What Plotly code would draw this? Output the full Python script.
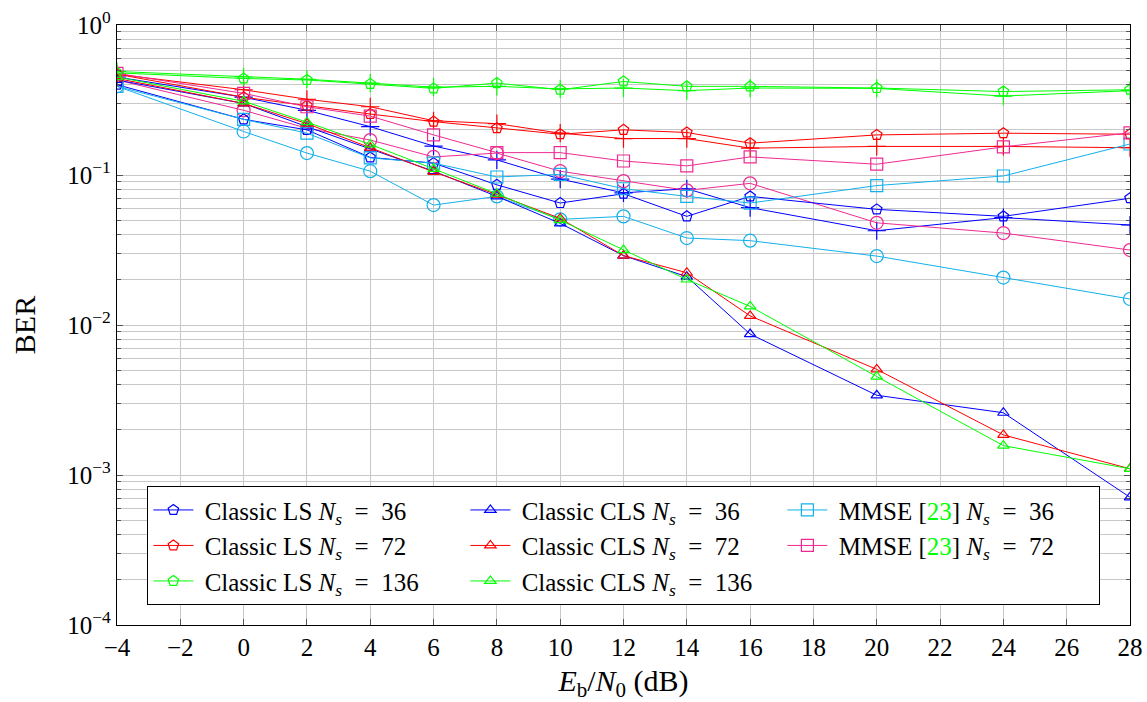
import plotly.graph_objects as go

EBN0 = [-4, 0, 2, 4, 6, 8, 10, 12, 14, 16, 20, 24, 28]

LS_36 = [0.40, 0.235, 0.20, 0.131, 0.12, 0.086, 0.065, 0.075, 0.053, 0.072, 0.059, 0.053, 0.070]
LS_72 = [0.47, 0.33, 0.29, 0.255, 0.227, 0.205, 0.187, 0.20, 0.192, 0.163, 0.185, 0.19, 0.187]
LS_136 = [0.48, 0.44, 0.43, 0.405, 0.378, 0.41, 0.37, 0.42, 0.39, 0.39, 0.38, 0.36, 0.37]

CLS_36 = [0.43, 0.30, 0.21, 0.15, 0.106, 0.072, 0.0476, 0.029, 0.021, 0.0087, 0.0034, 0.0026, 0.00071]
CLS_72 = [0.44, 0.30, 0.22, 0.152, 0.105, 0.074, 0.0514, 0.029, 0.0223, 0.0115, 0.00506, 0.00185, 0.0011]
CLS_136 = [0.45, 0.31, 0.225, 0.16, 0.11, 0.075, 0.050, 0.0316, 0.0201, 0.0133, 0.00453, 0.00157, 0.0011]

MMSE_36 = [0.39, 0.235, 0.19, 0.13, 0.12, 0.097, 0.101, 0.081, 0.072, 0.065, 0.085, 0.0985, 0.161]
MMSE_72 = [0.476, 0.35, 0.285, 0.247, 0.185, 0.141, 0.141, 0.124, 0.115, 0.132, 0.118, 0.154, 0.191]

PLUS_36 = [0.45, 0.33, 0.27, 0.21, 0.156, 0.126, 0.094, 0.076, 0.081, 0.0606, 0.0425, 0.052, 0.0464]
PLUS_72 = [0.47, 0.37, 0.32, 0.285, 0.23, 0.22, 0.19, 0.175, 0.175, 0.151, 0.155, 0.155, 0.152]
PLUS_136 = [0.49, 0.45, 0.435, 0.41, 0.385, 0.39, 0.375, 0.38, 0.365, 0.38, 0.378, 0.336, 0.365]

CIRC_36 = [0.39, 0.195, 0.14, 0.106, 0.063, 0.072, 0.0506, 0.053, 0.038, 0.0365, 0.0288, 0.0207, 0.0149]
CIRC_72 = [0.43, 0.27, 0.205, 0.171, 0.132, 0.14, 0.106, 0.091, 0.079, 0.088, 0.048, 0.041, 0.0316]

X_TICKS = [-4, -2, 0, 2, 4, 6, 8, 10, 12, 14, 16, 18, 20, 22, 24, 26, 28]
X_TICK_TEXT = ["−4", "−2", "0", "2", "4", "6", "8", "10", "12", "14", "16", "18", "20", "22", "24", "26", "28"]
Y_TICKS = [1, 0.1, 0.01, 0.001, 0.0001]
Y_TICK_TEXT = ["10<sup>0</sup>", "10<sup>−1</sup>", "10<sup>−2</sup>", "10<sup>−3</sup>", "10<sup>−4</sup>"]

BLUE = "#0000ff"
RED = "#ff0000"
GREEN = "#00ff00"
CYAN = "#12b0ec"
MAGENTA = "#ee2a92"
FONT = "Liberation Serif"
NB = "\u00a0"

fig = go.Figure()


def add(y, color, symbol, size, name=None, show=True):
    fig.add_trace(go.Scatter(
        x=EBN0, y=y, mode="lines+markers",
        line=dict(color=color, width=1),
        marker=dict(symbol=symbol, size=size, color=color, line=dict(color=color, width=1.2)),
        name=name or "", showlegend=show,
    ))


def lab(prefix, v):
    return NB + prefix + " <i>N</i><sub><i>s</i></sub>" + NB * 2 + "=" + NB * 2 + str(v)

# non-legend series
add(PLUS_36, BLUE, "cross-thin-open", 13, show=False)
add(PLUS_72, RED, "cross-thin-open", 13, show=False)
add(PLUS_136, GREEN, "cross-thin-open", 13, show=False)
add(CIRC_36, CYAN, "circle-open", 13, show=False)
add(CIRC_72, MAGENTA, "circle-open", 13, show=False)

MMSE_REF = "MMSE [<span style='color:#00ff00'>23</span>]"
# legend series (row-wise order)
add(LS_36, BLUE, "pentagon-open", 11, lab("Classic LS", 36))
add(CLS_36, BLUE, "triangle-up-open", 10, lab("Classic CLS", 36))
add(MMSE_36, CYAN, "square-open", 12, lab(MMSE_REF, 36))
add(LS_72, RED, "pentagon-open", 11, lab("Classic LS", 72))
add(CLS_72, RED, "triangle-up-open", 10, lab("Classic CLS", 72))
add(MMSE_72, MAGENTA, "square-open", 12, lab(MMSE_REF, 72))
add(LS_136, GREEN, "pentagon-open", 11, lab("Classic LS", 136))
add(CLS_136, GREEN, "triangle-up-open", 10, lab("Classic CLS", 136))

fig.update_layout(
    width=1147, height=702,
    margin=dict(l=117, r=17, t=25, b=77),
    paper_bgcolor="white", plot_bgcolor="white",
    font=dict(family=FONT, size=25, color="black"),
    legend=dict(
        orientation="h", x=0.03, y=0.033, xanchor="left", yanchor="bottom",
        bordercolor="black", borderwidth=1, bgcolor="white",
        entrywidth=262, tracegroupgap=0, font=dict(size=25, family=FONT),
        itemwidth=40,
    ),
)

fig.update_xaxes(
    range=[-4, 28], tickvals=X_TICKS, ticktext=X_TICK_TEXT, automargin=False,
    showgrid=True, gridcolor="#c8c8c8", gridwidth=1,
    showline=True, linecolor="black", linewidth=1.3, mirror="ticks",
    ticks="inside", ticklen=6, tickcolor="#555", zeroline=False,
    title=dict(text="<i>E</i><sub>b</sub>/<i>N</i><sub>0</sub> (dB)", standoff=12),
)
fig.update_yaxes(
    type="log", range=[-4, 0], tickvals=Y_TICKS, ticktext=Y_TICK_TEXT, automargin=False,
    showgrid=True, gridcolor="#c8c8c8", gridwidth=1,
    showline=True, linecolor="black", linewidth=1.3, mirror="ticks",
    ticks="inside", ticklen=6, tickcolor="#555", zeroline=False,
    minor=dict(dtick="D1", showgrid=True, gridcolor="#c8c8c8", gridwidth=1,
               ticks="inside", ticklen=4, tickcolor="#555"),
    title=dict(text="BER", standoff=22),
)

fig.write_html("out.html")
